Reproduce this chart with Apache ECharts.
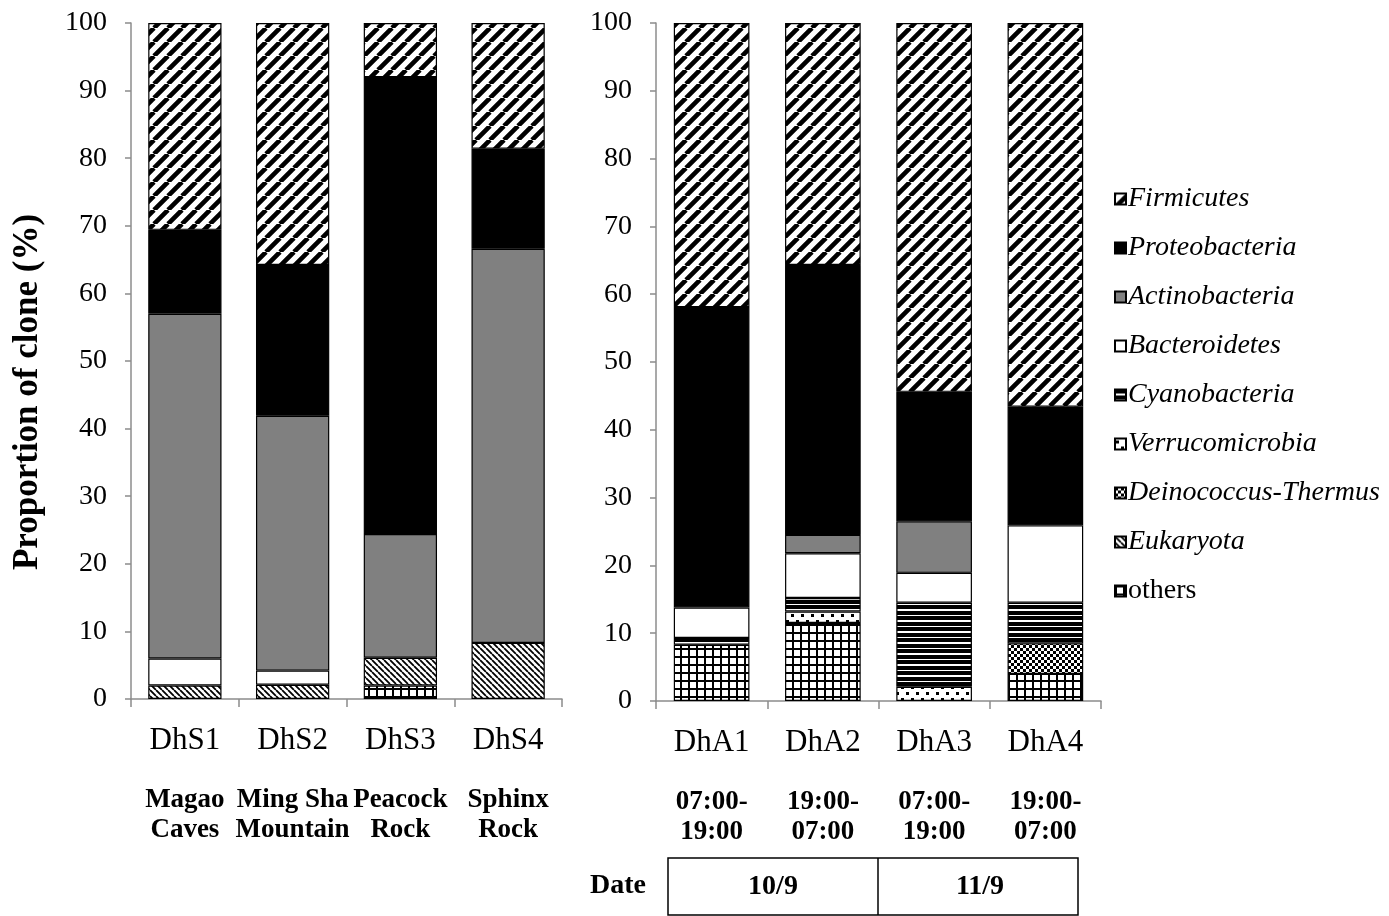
<!DOCTYPE html>
<html>
<head>
<meta charset="utf-8">
<script src="https://cdn.jsdelivr.net/npm/echarts@6/dist/echarts.min.js"></script>
<style>
  html, body { margin: 0; padding: 0; background: #fff; }
  #chart { width: 1389px; height: 916px; }
</style>
</head>
<body>
<div id="chart"></div>
<script>
// Soil / rock surface samples (left panel) and air samples (right panel)
const siteCodes = ['DhS1', 'DhS2', 'DhS3', 'DhS4'];
const siteNames = ['Magao\nCaves', 'Ming Sha\nMountain', 'Peacock\nRock', 'Sphinx\nRock'];
const airCodes = ['DhA1', 'DhA2', 'DhA3', 'DhA4'];
const airTimes = ['07:00-\n19:00', '19:00-\n07:00', '07:00-\n19:00', '19:00-\n07:00'];
const dateLabels = ['10/9', '11/9'];
const dateHeader = 'Date';
const yTitle = 'Proportion of clone (%)';

// Taxa, top of the stack first (legend order)
const taxa = ['Firmicutes', 'Proteobacteria', 'Actinobacteria', 'Bacteroidetes', 'Cyanobacteria',
              'Verrucomicrobia', 'Deinococcus-Thermus', 'Eukaryota', 'others'];
// names set upright in the legend (the rest are taxon names, in italics)
const uprightNames = ['others'];

// Percent of clones; DhS1..DhS4 then DhA1..DhA4 (null = not detected)
const firmicutes     = [30.6, 35.8, 8.0, 18.6, 41.9, 35.7, 54.4, 56.6];
const proteobacteria = [12.4, 22.3, 67.6, 14.8, 44.3, 39.8, 19.1, 17.5];
const actinobacteria = [51.0, 37.7, 18.3, 58.3, null, 2.7, 7.6, null];
const bacteroidetes  = [4.0, 2.1, null, null, 4.5, 6.6, 4.4, 11.4];
const cyanobacteria  = [null, null, null, null, 1.0, 2.0, 12.4, 6.0];
const verrucomicrobia = [null, null, null, null, null, 1.7, 2.1, null];
const deinococcus    = [null, null, null, null, null, null, null, 4.5];
const eukaryota      = [2.0, 2.1, 4.1, 8.3, null, null, null, null];
const others         = [null, null, 2.0, null, 8.3, 11.5, null, 4.0];

const valuesByTaxon = {
  'Firmicutes': firmicutes,
  'Proteobacteria': proteobacteria,
  'Actinobacteria': actinobacteria,
  'Bacteroidetes': bacteroidetes,
  'Cyanobacteria': cyanobacteria,
  'Verrucomicrobia': verrucomicrobia,
  'Deinococcus-Thermus': deinococcus,
  'Eukaryota': eukaryota,
  'others': others
};

// ---- hatch fills drawn on small tiles ----
function tile(w, h, draw) {
  const c = document.createElement('canvas');
  c.width = w; c.height = h;
  const g = c.getContext('2d');
  g.fillStyle = '#fff';
  g.fillRect(0, 0, w, h);
  g.fillStyle = '#000';
  g.strokeStyle = '#000';
  draw(g, w, h);
  return { image: c, repeat: 'repeat' };
}
const fills = {
  'Firmicutes': tile(14, 14, (g, w, h) => {
    g.lineWidth = 4.6;
    g.beginPath();
    for (const k of [-w, 0, w]) { g.moveTo(k, h); g.lineTo(k + w, 0); }
    g.stroke();
  }),
  'Proteobacteria': '#000000',
  'Actinobacteria': '#808080',
  'Bacteroidetes': '#ffffff',
  'Cyanobacteria': tile(4, 11, (g) => {
    g.fillRect(0, 0, 4, 4);
    g.fillRect(0, 6, 4, 4);
  }),
  'Verrucomicrobia': tile(10, 12, (g) => {
    g.fillRect(1, 2, 3, 3);
    g.fillRect(6, 8, 3, 3);
  }),
  'Deinococcus-Thermus': tile(6, 6, (g) => {
    g.fillRect(0, 0, 3, 3);
    g.fillRect(3, 3, 3, 3);
  }),
  'Eukaryota': tile(6, 6, (g, w, h) => {
    g.lineWidth = 1.8;
    g.beginPath();
    for (const k of [-w, 0, w]) { g.moveTo(k, 0); g.lineTo(k + w, h); }
    g.stroke();
  }),
  'others': tile(8, 8, (g) => {
    g.fillRect(0, 0, 8, 2);
    g.fillRect(0, 0, 2, 8);
  })
};

const serif = '"Liberation Serif", "Times New Roman", serif';
const axisGray = '#8c8c8c';

const gridL = { left: 131, top: 23, width: 431, height: 676 };
const gridR = { left: 656, top: 23, width: 445, height: 678 };

function valueAxis(gridIndex, withName) {
  const ax = {
    type: 'value', gridIndex: gridIndex, min: 0, max: 100, interval: 10,
    axisLine: { show: true, lineStyle: { color: axisGray, width: 1.5 } },
    axisTick: { show: true, length: 6, lineStyle: { color: axisGray, width: 1.5 } },
    splitLine: { show: false },
    axisLabel: { color: '#000', fontFamily: serif, fontSize: 28, margin: 24 }
  };
  if (withName) {
    Object.assign(ax, {
      name: yTitle, nameLocation: 'middle', nameRotate: 90, nameGap: 86,
      nameTextStyle: { color: '#000', fontFamily: serif, fontSize: 35, fontWeight: 'bold',
                       padding: [0, 62, 0, 0] }
    });
  }
  return ax;
}
function codeAxis(gridIndex, data) {
  return {
    type: 'category', gridIndex: gridIndex, data: data, position: 'bottom',
    axisLine: { show: true, lineStyle: { color: axisGray, width: 1.5 } },
    axisTick: { show: true, length: 8, lineStyle: { color: axisGray, width: 1.5 } },
    axisLabel: { interval: 0, color: '#000', fontFamily: serif, fontSize: 31, margin: 26 }
  };
}
function noteAxis(gridIndex, data) {
  return {
    type: 'category', gridIndex: gridIndex, data: data, position: 'bottom',
    axisLine: { show: false }, axisTick: { show: false },
    axisLabel: { interval: 0, color: '#000', fontFamily: serif, fontSize: 27,
                 fontWeight: 'bold', margin: 86, lineHeight: 30 }
  };
}

const series = [];
// bottom of the stack first so stacking matches the legend read top-down
taxa.slice().reverse().forEach(name => {
  const vals = valuesByTaxon[name];
  [[0, 0, 0, 4, 'soil'], [2, 1, 4, 8, 'air']].forEach(([xi, yi, a, b, stack]) => {
    series.push({
      name: name, type: 'bar', stack: stack,
      xAxisIndex: xi, yAxisIndex: yi,
      barWidth: '68%',
      itemStyle: { color: fills[name], borderColor: '#000', borderWidth: 1.2 },
      emphasis: { disabled: true },
      data: vals.slice(a, b)
    });
  });
});

const legendText = { color: '#000', fontFamily: serif, fontSize: 28, lineHeight: 30 };

const chart = echarts.init(document.getElementById('chart'), null, { renderer: 'canvas' });
chart.setOption({
  animation: false,
  backgroundColor: '#fff',
  grid: [gridL, gridR],
  xAxis: [codeAxis(0, siteCodes), noteAxis(0, siteNames), codeAxis(1, airCodes), noteAxis(1, airTimes)],
  yAxis: [valueAxis(0, true), valueAxis(1, false)],
  legend: {
    data: taxa,
    orient: 'vertical', left: 1109, top: 179,
    itemWidth: 11, itemHeight: 11, itemGap: 19,
    icon: 'rect',
    textStyle: {
      color: '#000', fontFamily: serif, fontSize: 28, lineHeight: 30,
      padding: [0, 0, 0, -3],
      rich: {
        it: Object.assign({ fontStyle: 'italic' }, legendText),
        up: Object.assign({ fontStyle: 'normal' }, legendText)
      }
    },
    formatter: n => (uprightNames.includes(n) ? '{up|' : '{it|') + n + '}'
  },
  series: series,
  graphic: [
    { type: 'text', left: 590, top: 872,
      style: { text: dateHeader, fill: '#000', font: 'bold 28px ' + serif } },
    { type: 'rect', shape: { x: 668, y: 858, width: 410, height: 57 },
      style: { fill: 'none', stroke: '#000', lineWidth: 1.5 } },
    { type: 'line', shape: { x1: 878, y1: 858, x2: 878, y2: 915 },
      style: { stroke: '#000', lineWidth: 1.5 } },
    { type: 'text', x: 773, y: 887,
      style: { text: dateLabels[0], fill: '#000', font: 'bold 28px ' + serif, align: 'center', verticalAlign: 'middle' } },
    { type: 'text', x: 980, y: 887,
      style: { text: dateLabels[1], fill: '#000', font: 'bold 28px ' + serif, align: 'center', verticalAlign: 'middle' } }
  ]
});
</script>
</body>
</html>
